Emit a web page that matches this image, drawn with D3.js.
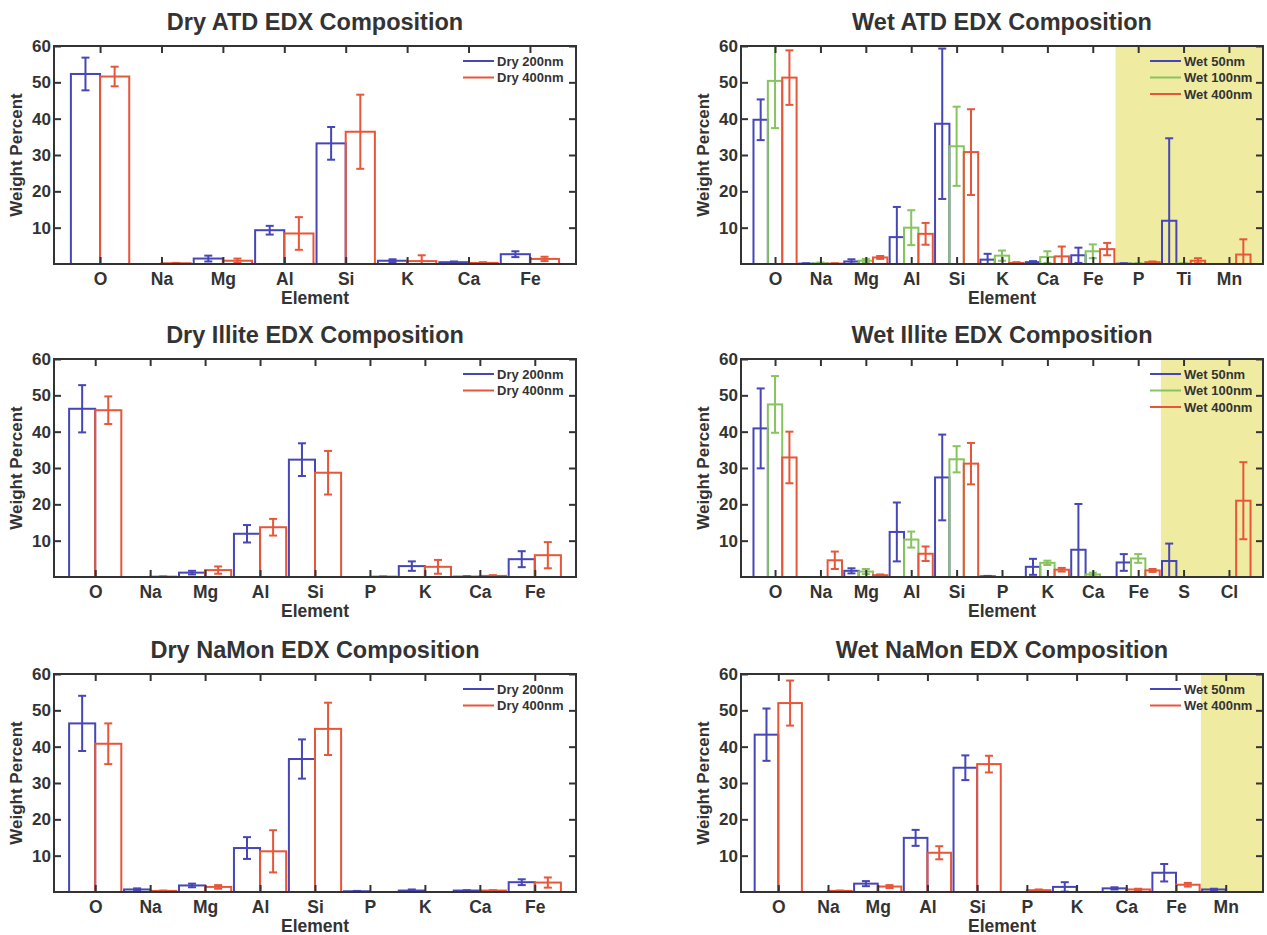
<!DOCTYPE html>
<html>
<head>
<meta charset="utf-8">
<script src="https://cdn.jsdelivr.net/npm/d3@7"></script>
<style>
  body { margin: 0; background: #fff; }
  text { font-family: "Liberation Sans", Arial, sans-serif; font-weight: bold; fill: #333; }
</style>
</head>
<body>
<div id="chart"></div>
<script>
// Element categories per panel
const dryAtdElements = ["O", "Na", "Mg", "Al", "Si", "K", "Ca", "Fe"];
const wetAtdElements = ["O", "Na", "Mg", "Al", "Si", "K", "Ca", "Fe", "P", "Ti", "Mn"];
const dryIlliteElements = ["O", "Na", "Mg", "Al", "Si", "P", "K", "Ca", "Fe"];
const wetIlliteElements = ["O", "Na", "Mg", "Al", "Si", "P", "K", "Ca", "Fe", "S", "Cl"];
const dryNaMonElements = ["O", "Na", "Mg", "Al", "Si", "P", "K", "Ca", "Fe"];
const wetNaMonElements = ["O", "Na", "Mg", "Al", "Si", "P", "K", "Ca", "Fe", "Mn"];

// Weight percent (mean) and error (+/-)
const dryAtd200 = [52.3, 0, 1.5, 9.3, 33.2, 0.9, 0.5, 2.7];
const dryAtd200Err = [4.5, 0, 0.8, 1.2, 4.5, 0.4, 0.2, 0.8];
const dryAtd400 = [51.6, 0.2, 0.9, 8.4, 36.4, 0.8, 0.3, 1.4];
const dryAtd400Err = [2.7, 0.1, 0.6, 4.5, 10.2, 1.6, 0.2, 0.6];

const wetAtd50 = [39.7, 0.1, 0.7, 7.4, 38.6, 1.2, 0.5, 2.4, 0.1, 11.9, 0];
const wetAtd50Err = [5.6, 0.1, 0.6, 8.3, 20.7, 1.6, 0.3, 2.1, 0.1, 22.7, 0];
const wetAtd100 = [50.4, 0.2, 0.9, 10.0, 32.4, 2.3, 1.9, 3.5, 0.1, 0.1, 0];
const wetAtd100Err = [13, 0.2, 0.5, 4.8, 10.9, 1.4, 1.6, 1.9, 0.1, 0.1, 0];
const wetAtd400 = [51.3, 0.1, 1.8, 8.3, 30.8, 0.3, 2.1, 4.1, 0.5, 0.9, 2.6];
const wetAtd400Err = [7.5, 0.1, 0.4, 3.0, 11.8, 0.2, 2.7, 1.7, 0.2, 0.7, 4.2];

const dryIllite200 = [46.3, 0, 1.2, 11.9, 32.3, 0, 3.0, 0.1, 4.9];
const dryIllite200Err = [6.5, 0, 0.5, 2.4, 4.5, 0, 1.3, 0.1, 2.2];
const dryIllite400 = [45.9, 0.1, 1.9, 13.7, 28.7, 0.1, 2.8, 0.3, 6.0];
const dryIllite400Err = [3.8, 0.1, 1.0, 2.3, 6.0, 0.1, 1.9, 0.2, 3.6];

const wetIllite50 = [40.9, 0, 1.7, 12.4, 27.4, 0.2, 2.8, 7.5, 4.0, 4.4, 0];
const wetIllite50Err = [11, 0, 0.7, 8.1, 11.8, 0.1, 2.2, 12.6, 2.3, 4.8, 0];
const wetIllite100 = [47.5, 0, 1.5, 10.3, 32.4, 0, 3.9, 0.7, 5.1, 0, 0];
const wetIllite100Err = [7.8, 0, 0.7, 2.2, 3.6, 0, 0.6, 0.5, 1.2, 0, 0];
const wetIllite400 = [32.9, 4.6, 0.5, 6.4, 31.2, 0, 2.0, 0, 1.8, 0, 21.0];
const wetIllite400Err = [7.1, 2.4, 0.2, 2.0, 5.7, 0, 0.5, 0, 0.4, 0, 10.6];

const dryNaMon200 = [46.4, 0.7, 1.8, 12.1, 36.6, 0.2, 0.4, 0.4, 2.7];
const dryNaMon200Err = [7.6, 0.3, 0.5, 3.0, 5.4, 0.1, 0.3, 0.1, 0.8];
const dryNaMon400 = [40.8, 0.3, 1.4, 11.2, 44.9, 0, 0, 0.4, 2.6];
const dryNaMon400Err = [5.6, 0.1, 0.5, 5.8, 7.2, 0, 0, 0.1, 1.4];

const wetNaMon50 = [43.3, 0, 2.3, 14.9, 34.2, 0, 1.4, 1.0, 5.3, 0.7];
const wetNaMon50Err = [7.2, 0, 0.7, 2.2, 3.4, 0, 1.3, 0.3, 2.4, 0.2];
const wetNaMon400 = [52.0, 0.3, 1.5, 10.8, 35.2, 0.5, 0, 0.7, 2.0, 0];
const wetNaMon400Err = [6.2, 0.1, 0.4, 1.8, 2.3, 0.2, 0, 0.2, 0.5, 0];

// y tick labels
const yTicks = [10, 20, 30, 40, 50, 60];

const colors = { "200nm": "#4646b8", "50nm": "#4646b8", "100nm": "#86c45e", "400nm": "#e8563a" };

const panels = [
  { title: "Dry ATD EDX Composition", elements: dryAtdElements, shadeFrom: null, col: 0, row: 0,
    series: [{ name: "Dry 200nm", key: "200nm", v: dryAtd200, e: dryAtd200Err },
             { name: "Dry 400nm", key: "400nm", v: dryAtd400, e: dryAtd400Err }] },
  { title: "Wet ATD EDX Composition", elements: wetAtdElements, shadeFrom: "P", col: 1, row: 0,
    series: [{ name: "Wet 50nm", key: "50nm", v: wetAtd50, e: wetAtd50Err },
             { name: "Wet 100nm", key: "100nm", v: wetAtd100, e: wetAtd100Err },
             { name: "Wet 400nm", key: "400nm", v: wetAtd400, e: wetAtd400Err }] },
  { title: "Dry Illite EDX Composition", elements: dryIlliteElements, shadeFrom: null, col: 0, row: 1,
    series: [{ name: "Dry 200nm", key: "200nm", v: dryIllite200, e: dryIllite200Err },
             { name: "Dry 400nm", key: "400nm", v: dryIllite400, e: dryIllite400Err }] },
  { title: "Wet Illite EDX Composition", elements: wetIlliteElements, shadeFrom: "S", col: 1, row: 1,
    series: [{ name: "Wet 50nm", key: "50nm", v: wetIllite50, e: wetIllite50Err },
             { name: "Wet 100nm", key: "100nm", v: wetIllite100, e: wetIllite100Err },
             { name: "Wet 400nm", key: "400nm", v: wetIllite400, e: wetIllite400Err }] },
  { title: "Dry NaMon EDX Composition", elements: dryNaMonElements, shadeFrom: null, col: 0, row: 2,
    series: [{ name: "Dry 200nm", key: "200nm", v: dryNaMon200, e: dryNaMon200Err },
             { name: "Dry 400nm", key: "400nm", v: dryNaMon400, e: dryNaMon400Err }] },
  { title: "Wet NaMon EDX Composition", elements: wetNaMonElements, shadeFrom: "Mn", col: 1, row: 2,
    series: [{ name: "Wet 50nm", key: "50nm", v: wetNaMon50, e: wetNaMon50Err },
             { name: "Wet 400nm", key: "400nm", v: wetNaMon400, e: wetNaMon400Err }] }
];

const W = 1267, H = 935;
const colLeft = [54, 741];
const rowTop = [46, 359, 674];
const plotW = 522, plotH = 218;

const svg = d3.select("#chart").append("svg")
  .attr("width", W)
  .attr("height", H);

svg.append("rect").attr("width", W).attr("height", H).attr("fill", "#fff");

panels.forEach((p, pi) => {
  const n = p.elements.length;
  const x0 = colLeft[p.col], y0 = rowTop[p.row];

  const x = d3.scaleLinear().domain([0.25, n + 0.75]).range([0, plotW]);
  const y = d3.scaleLinear().domain([0, 60]).range([plotH, 0]);

  const g = svg.append("g").attr("transform", `translate(${x0},${y0})`);

  g.append("clipPath").attr("id", "clip" + pi)
    .append("rect").attr("width", plotW).attr("height", plotH);

  const plot = g.append("g").attr("clip-path", `url(#clip${pi})`);

  // shaded region for trace elements
  if (p.shadeFrom) {
    const s = p.elements.indexOf(p.shadeFrom) + 1;
    plot.append("rect")
      .attr("x", x(s - 0.5))
      .attr("y", 0)
      .attr("width", plotW - x(s - 0.5))
      .attr("height", plotH)
      .attr("fill", "#efeca2");
  }

  const ns = p.series.length;
  const bw = 0.95 / ns;

  p.series.forEach((s, si) => {
    const off = (si - (ns - 1) / 2) * bw;
    const col = colors[s.key];
    const rows = p.elements.map((el, i) => ({ i: i + 1, v: s.v[i], e: s.e[i] }));

    plot.selectAll(null)
      .data(rows)
      .join("rect")
      .attr("x", d => x(d.i + off - bw / 2))
      .attr("y", d => y(d.v))
      .attr("width", x(bw) - x(0))
      .attr("height", d => y(0) - y(d.v))
      .attr("fill", "none")
      .attr("stroke", col)
      .attr("stroke-width", 2);

    const eb = plot.selectAll(null)
      .data(rows.filter(d => d.e > 0))
      .join("g")
      .attr("stroke", col)
      .attr("stroke-width", 2);

    eb.append("line")
      .attr("x1", d => x(d.i + off)).attr("x2", d => x(d.i + off))
      .attr("y1", d => y(d.v - d.e)).attr("y2", d => y(d.v + d.e));
    eb.append("line")
      .attr("x1", d => x(d.i + off) - 4).attr("x2", d => x(d.i + off) + 4)
      .attr("y1", d => y(d.v + d.e)).attr("y2", d => y(d.v + d.e));
    eb.append("line")
      .attr("x1", d => x(d.i + off) - 4).attr("x2", d => x(d.i + off) + 4)
      .attr("y1", d => y(d.v - d.e)).attr("y2", d => y(d.v - d.e));
  });

  const idx = d3.range(1, n + 1);

  // axes, ticks pointing inward
  const left = g.append("g")
    .call(d3.axisLeft(y).tickValues(yTicks).tickSizeInner(-7).tickSizeOuter(0).tickPadding(3));
  left.selectAll("text").style("font-size", "17px");

  g.append("g").attr("transform", `translate(${plotW},0)`)
    .call(d3.axisRight(y).tickValues(yTicks).tickSizeInner(-7).tickSizeOuter(0).tickFormat(""));

  const bottom = g.append("g").attr("transform", `translate(0,${plotH})`)
    .call(d3.axisBottom(x).tickValues(idx).tickSizeInner(-7).tickSizeOuter(0).tickPadding(9)
      .tickFormat(d => p.elements[d - 1]));
  bottom.selectAll("text").style("font-size", "17.5px");

  g.append("g")
    .call(d3.axisTop(x).tickValues(idx).tickSizeInner(-7).tickSizeOuter(0).tickFormat(""));

  g.selectAll(".domain").remove();
  g.selectAll(".tick line").attr("stroke", "#333").attr("stroke-width", 2);

  g.append("rect")
    .attr("width", plotW).attr("height", plotH)
    .attr("fill", "none").attr("stroke", "#333").attr("stroke-width", 2);

  // labels
  g.append("text")
    .attr("x", plotW / 2).attr("y", -16)
    .attr("text-anchor", "middle")
    .style("font-size", "23.5px")
    .text(p.title);

  g.append("text")
    .attr("x", plotW / 2).attr("y", plotH + 40)
    .attr("text-anchor", "middle")
    .style("font-size", "17.5px")
    .text("Element");

  g.append("text")
    .attr("transform", `translate(-32,${plotH / 2}) rotate(-90)`)
    .attr("text-anchor", "middle")
    .style("font-size", "17px")
    .text("Weight Percent");

  // legend
  const leg = g.append("g").attr("transform", `translate(${plotW - 113},15)`);
  p.series.forEach((s, si) => {
    leg.append("line")
      .attr("x1", 0).attr("x2", 31)
      .attr("y1", si * 16.5).attr("y2", si * 16.5)
      .attr("stroke", colors[s.key]).attr("stroke-width", 2);
    leg.append("text")
      .attr("x", 34).attr("y", si * 16.5)
      .attr("dy", "0.35em")
      .style("font-size", "13px")
      .text(s.name);
  });
});
</script>
</body>
</html>
